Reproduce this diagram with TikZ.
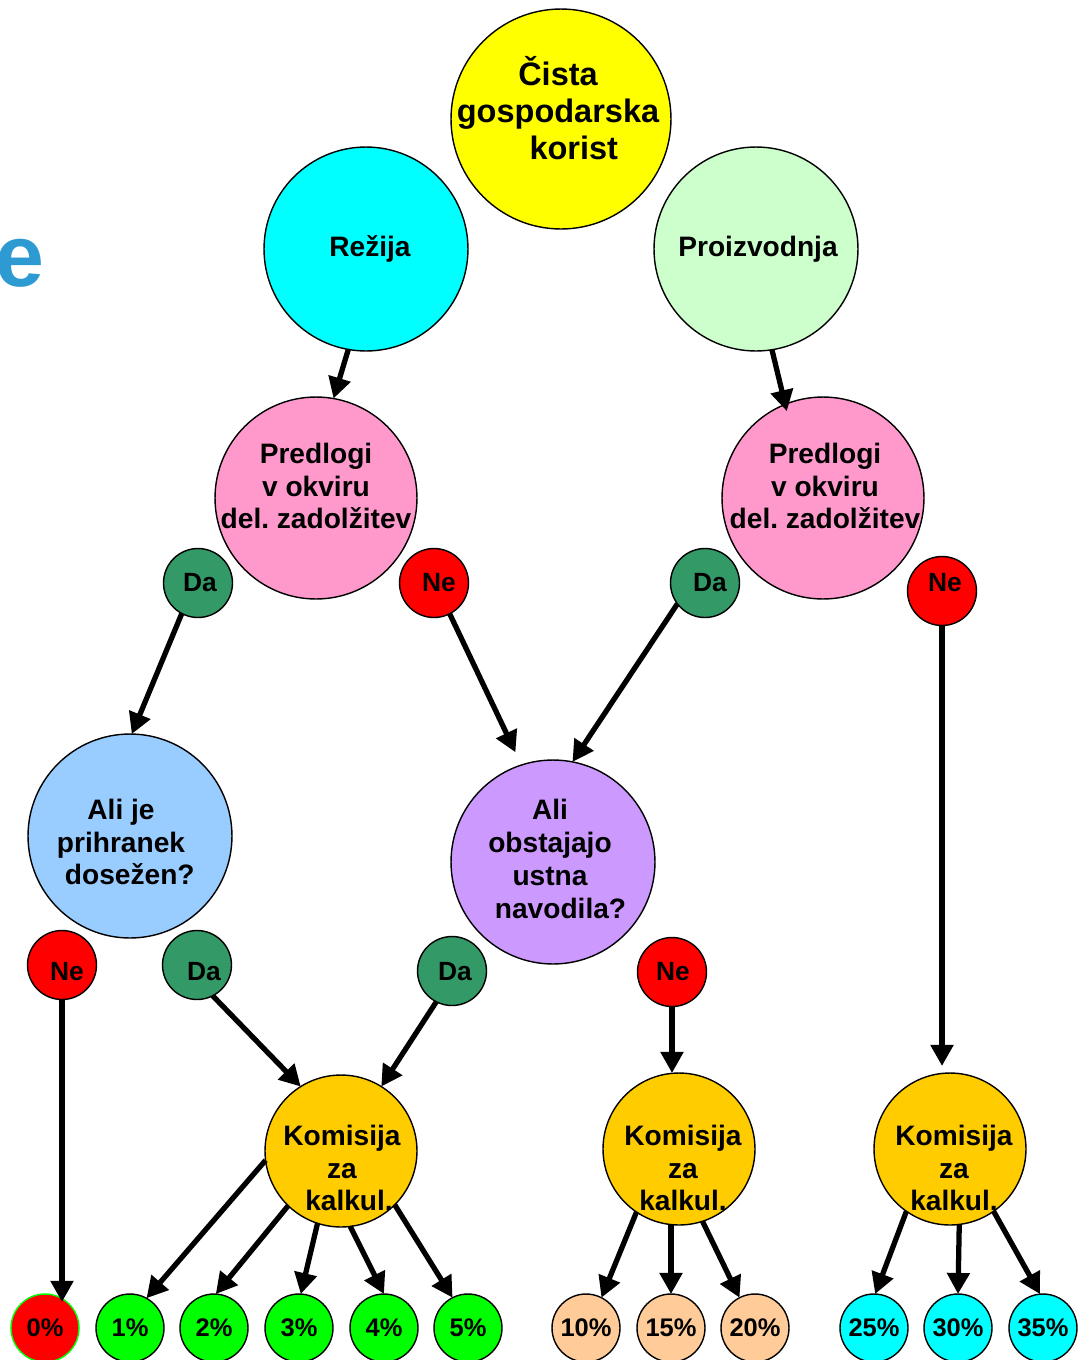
\documentclass[tikz,border=0pt]{standalone}
\usepackage{fontspec}
\setmainfont{Liberation Sans}
\usetikzlibrary{arrows.meta,calc}
\frenchspacing
\definecolor{cYellow}{HTML}{FFFF00}
\definecolor{cCyan}{HTML}{00FFFF}
\definecolor{cMint}{HTML}{CCFFCC}
\definecolor{cPink}{HTML}{FF99CC}
\definecolor{cDkGreen}{HTML}{339966}
\definecolor{cRed}{HTML}{FF0000}
\definecolor{cSky}{HTML}{99CCFF}
\definecolor{cLav}{HTML}{CC99FF}
\definecolor{cGold}{HTML}{FFCC00}
\definecolor{cGreen}{HTML}{00FF00}
\definecolor{cPeach}{HTML}{FFCC99}
\definecolor{cBlueE}{HTML}{2E9AD2}
\begin{document}
\begin{tikzpicture}[x=0.02cm,y=-0.02cm,
  bub/.style={circle,draw=black,line width=0.8pt,inner sep=0pt,outer sep=0pt},
  txt/.style={inner sep=0pt,align=center,font=\bfseries\fontsize{16}{18.7}\selectfont},
  bigtxt/.style={txt,font=\bfseries\fontsize{18.5}{21}\selectfont},
  yntxt/.style={txt,font=\bfseries\fontsize{15}{18}\selectfont},
  pct/.style={bub,minimum size=1.36cm,font=\bfseries\fontsize{14.5}{17}\selectfont},
  topb/.style={bub,minimum size=4.4cm,fill=cYellow},
  midb/.style={bub,minimum size=4.08cm},
  predb/.style={bub,minimum size=4.04cm,fill=cPink},
  yn/.style={bub,minimum size=1.38cm},
  da/.style={yn,fill=cDkGreen},
  ne/.style={yn,fill=cRed},
  komb/.style={bub,minimum size=3.04cm,fill=cGold},
  arr/.style={line width=3pt,-{Triangle[length=12pt,width=12.5pt]}}
]
\useasboundingbox (0,0) rectangle (1080,1360);

\node[anchor=base east,inner sep=0pt,text=cBlueE,font=\bfseries\fontsize{50}{50}\selectfont] (ecut) at (45,286) {e};

% top level
\node[topb] (cista) at (561,119) {};
\node[bigtxt] (cistaT) at ($(cista)+(-3,-11)$) {Čista\\gospodarska\\\hspace*{18pt}korist};
\node[midb,fill=cCyan] (rez) at (366,249) {};
\node[txt] (rezT) at ($(rez)+(4,0)$) {Režija};
\node[midb,fill=cMint] (proiz) at (756,249) {};
\node[txt] (proizT) at ($(proiz)+(2,0)$) {Proizvodnja};

% proposals
\node[predb] (predL) at (316,498) {};
\node[txt] (predLT) at ($(predL)+(0,-12)$) {Predlogi\\v okviru\\del. zadolžitev};
\node[predb] (predR) at (823,498) {};
\node[txt] (predRT) at ($(predR)+(2,-12)$) {Predlogi\\v okviru\\del. zadolžitev};

\node[da] (daL) at (198,583) {};
\node[yntxt] (daLT) at ($(daL)+(2,0)$) {Da};
\node[ne] (neL) at (434,583) {};
\node[yntxt] (neLT) at ($(neL)+(5,0)$) {Ne};
\node[da] (daR) at (705,583) {};
\node[yntxt] (daRT) at ($(daR)+(5,0)$) {Da};
\node[ne] (neR) at (942,591) {};
\node[yntxt] (neRT) at ($(neR)+(3,-8)$) {Ne};

% questions
\node[midb,fill=cSky] (aliJe) at (130,836) {};
\node[txt] (aliJeT) at ($(aliJe)+(-9,6)$) {Ali je\\prihranek\\\hspace*{10pt}dosežen?};
\node[midb,fill=cLav] (aliOb) at (553,862) {};
\node[txt] (aliObT) at ($(aliOb)+(-3,-3)$) {Ali\\obstajajo\\ustna\\\hspace*{12pt}navodila?};

\node[ne] (neA) at (62,965) {};
\node[yntxt] (neAT) at ($(neA)+(5,7)$) {Ne};
\node[da] (daA) at (197,965) {};
\node[yntxt] (daAT) at ($(daA)+(7,7)$) {Da};
\node[da] (daB) at (452,971) {};
\node[yntxt] (daBT) at ($(daB)+(3,1)$) {Da};
\node[ne] (neB) at (672,972) {};
\node[yntxt] (neBT) at ($(neB)+(1,0)$) {Ne};

% commissions
\node[komb] (kom1) at (341,1151) {};
\node[txt] (kom1T) at ($(kom1)+(1,17)$) {Komisija\\za\\\hspace*{8pt}kalkul.};
\node[komb] (kom2) at (679,1149) {};
\node[txt] (kom2T) at ($(kom2)+(4,19)$) {Komisija\\za\\kalkul.};
\node[komb] (kom3) at (950,1149) {};
\node[txt] (kom3T) at ($(kom3)+(4,19)$) {Komisija\\za\\kalkul.};

% percentages
\node[pct,fill=cRed,draw=cGreen] (p0) at (45,1328) {0\%};
\node[pct,fill=cGreen] (p1) at (130,1328) {1\%};
\node[pct,fill=cGreen] (p2) at (214,1328) {2\%};
\node[pct,fill=cGreen] (p3) at (299,1328) {3\%};
\node[pct,fill=cGreen] (p4) at (384,1328) {4\%};
\node[pct,fill=cGreen] (p5) at (468,1328) {5\%};
\node[pct,fill=cPeach] (p10) at (586,1328) {10\%};
\node[pct,fill=cPeach] (p15) at (671,1328) {15\%};
\node[pct,fill=cPeach] (p20) at (755,1328) {20\%};
\node[pct,fill=cCyan] (p25) at (874,1328) {25\%};
\node[pct,fill=cCyan] (p30) at (958,1328) {30\%};
\node[pct,fill=cCyan] (p35) at (1043,1328) {35\%};

% connectors
\draw[arr] (rez.-100) -- (predL.80);
\draw[arr,shorten >=-4pt] (proiz.-81) -- (predR.112);
\draw[arr] (daL.-118) -- (aliJe.89);
\draw[arr,shorten >=8pt] (neL.-63) -- (aliOb.108);
\draw[arr] (daR.-143) -- (aliOb.79);
\draw[arr,shorten >=4pt] (neR.south) -- (neR.south |- kom3.north);
\draw[arr] (neA.south) -- (neA.south |- p0.50);
\draw[arr] (daA.-63) -- (kom1.122);
\draw[arr] (daB.-117) -- (kom1.58);
\draw[arr] (neB.south) -- (neB.south |- kom2.north);

\draw[arr] (kom1.187) -- (p1.61);
\draw[arr] (kom1.-134) -- (p2.87);
\draw[arr] (kom1.-108) -- (p3.87);
\draw[arr] (kom1.-83) -- (p4.north);
\draw[arr] (kom1.-45) -- (p5.117);

\draw[arr] (kom2.-124) -- (p10.63);
\draw[arr] (p15.north |- kom2.south) -- (p15.north);
\draw[arr] (kom2.-72) -- (p20.117);

\draw[arr] (kom3.-125) -- (p25.88);
\draw[arr] (kom3.-83) -- (p30.north);
\draw[arr] (kom3.-55) -- (p35.95);
\end{tikzpicture}
\end{document}
